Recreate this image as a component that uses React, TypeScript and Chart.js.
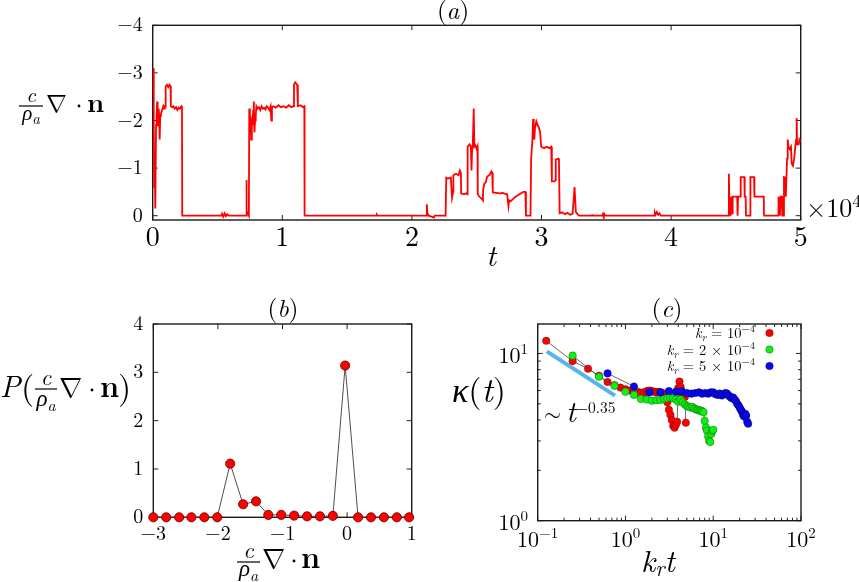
import React, { useEffect, useRef } from "react";
import { Chart, registerables } from "chart.js";

Chart.register(...registerables);

const W = 859;
const H = 582;
const SERIF = '"Latin Modern Roman", "Liberation Serif", "DejaVu Serif", serif';
const MATH = '"Latin Modern Math", "DejaVu Serif", serif';

// ---------- Panel (a): time series (t in units of 10^4) ----------
const aT = [
  0, 0.004, 0.008, 0.012, 0.016, 0.02, 0.026, 0.03, 0.034, 0.038,
  0.042, 0.046, 0.05, 0.054, 0.058, 0.064, 0.07, 0.076, 0.082, 0.088,
  0.094, 0.098, 0.1, 0.11, 0.12, 0.13, 0.138, 0.14, 0.15, 0.16,
  0.17, 0.18, 0.19, 0.2, 0.21, 0.222, 0.226, 0.228, 0.53, 0.535,
  0.545, 0.555, 0.565, 0.575, 0.585, 0.72, 0.722, 0.727, 0.742, 0.745,
  0.75, 0.755, 0.76, 0.765, 0.77, 0.775, 0.78, 0.785, 0.79, 0.795,
  0.8, 0.81, 0.82, 0.83, 0.84, 0.85, 0.86, 0.87, 0.88, 0.89,
  0.9, 0.91, 0.915, 0.92, 0.93, 0.95, 0.97, 0.99, 1.01, 1.03,
  1.05, 1.07, 1.085, 1.09, 1.1, 1.115, 1.12, 1.14, 1.16, 1.17,
  1.172, 1.725, 1.73, 1.735, 2.11, 2.115, 2.12, 2.13, 2.17, 2.175,
  2.26, 2.265, 2.28, 2.3, 2.31, 2.318, 2.32, 2.34, 2.36, 2.37,
  2.378, 2.38, 2.4, 2.42, 2.428, 2.43, 2.445, 2.455, 2.46, 2.465,
  2.47, 2.477, 2.482, 2.49, 2.5, 2.506, 2.508, 2.52, 2.53, 2.54,
  2.548, 2.55, 2.56, 2.57, 2.58, 2.6, 2.614, 2.62, 2.624, 2.65,
  2.68, 2.7, 2.72, 2.735, 2.745, 2.75, 2.76, 2.78, 2.8, 2.83,
  2.86, 2.876, 2.88, 2.915, 2.92, 2.93, 2.935, 2.94, 2.945, 2.95,
  2.96, 2.97, 2.98, 2.99, 2.997, 3.02, 3.04, 3.06, 3.075, 3.08,
  3.1, 3.108, 3.11, 3.13, 3.135, 3.14, 3.16, 3.18, 3.2, 3.22,
  3.24, 3.255, 3.265, 3.28, 3.29, 3.39, 3.392, 3.395, 3.47, 3.475,
  3.48, 3.485, 3.49, 3.87, 3.875, 3.88, 3.89, 3.9, 3.91, 3.92,
  4.445, 4.446, 4.45, 4.455, 4.46, 4.465, 4.47, 4.475, 4.51, 4.513,
  4.517, 4.535, 4.537, 4.565, 4.568, 4.575, 4.578, 4.61, 4.612, 4.64,
  4.643, 4.715, 4.717, 4.825, 4.827, 4.83, 4.835, 4.84, 4.845, 4.855,
  4.858, 4.862, 4.868, 4.871, 4.88, 4.885, 4.89, 4.895, 4.9, 4.905,
  4.915, 4.925, 4.93, 4.94, 4.95, 4.958, 4.965, 4.969, 4.972, 4.985,
  4.99, 5.0,
];
const aV = [
  -2.6, -3.1, -2.0, -0.6, -1.0, -0.15, -1.9, -2.1, -2.4, -2.0,
  -1.9, -2.25, -2.1, -1.6, -2.1, -2.15, -2.2, -2.25, -2.3, -2.25,
  -2.3, -2.3, -2.72, -2.75, -2.7, -2.75, -2.72, -2.3, -2.28, -2.3,
  -2.25, -2.28, -2.22, -2.27, -2.25, -2.3, -2.28, 0, 0, -0.04,
  0.02, -0.05, 0.01, -0.03, 0, 0, -0.75, -0.1, 0, -2.25,
  -1.9, -2.1, -1.6, -2.05, -1.9, -2.2, -2.4, -1.75, -2.0, -2.1,
  -2.3, -2.25, -2.28, -2.22, -2.3, -2.25, -2.27, -2.23, -2.3, -2.27,
  -2.22, -2.3, -2.0, -2.28, -2.3, -2.27, -2.32, -2.28, -2.3, -2.27,
  -2.32, -2.28, -2.3, -2.75, -2.8, -2.75, -2.3, -2.32, -2.28, -2.3,
  0, 0, -0.02, 0, 0, -0.24, -0.05, 0, 0.04, 0,
  0, -0.8, -0.78, -0.8, -0.38, -0.5, -0.85, -0.88, -0.85, -0.95,
  -0.9, -0.47, -0.45, -0.47, -0.45, -1.45, -1.5, -1.45, -0.95, -1.45,
  -1.5, -2.25, -1.45, -1.48, -1.4, -1.45, -0.45, -0.4, -0.38, -0.35,
  -0.32, -0.55, -0.68, -0.7, -0.82, -0.86, -0.93, -0.9, -0.49, -0.48,
  -0.47, -0.48, -0.46, -0.45, -0.2, -0.32, -0.3, -0.35, -0.4, -0.45,
  -0.5, -0.5, 0, 0, -1.2, -1.6, -2.03, -1.7, -1.6, -1.85,
  -1.98, -1.9, -1.85, -1.75, -1.45, -1.42, -1.45, -1.42, -1.45, -0.72,
  -0.72, -0.75, -1.18, -1.2, -1.15, -0.05, -0.07, -0.03, -0.06, -0.02,
  -0.04, -0.6, -0.08, -0.03, 0, 0, -0.03, 0, 0, -0.04,
  0, -0.03, 0, 0, -0.06, -0.02, -0.08, -0.02, -0.05, 0,
  0, -0.88, -0.1, -0.4, 0, -0.4, -0.05, -0.4, -0.4, 0,
  -0.4, -0.4, -0.81, -0.81, -0.4, -0.4, 0, 0, -0.81, -0.81,
  -0.4, -0.4, 0, 0, -0.4, 0, -0.4, 0, -0.4, -0.4,
  0, -0.4, 0, -0.81, -0.8, -0.4, -0.8, -1.2, -1.6, -1.45,
  -1.4, -1.45, -1.1, -1.05, -1.2, -1.45, -1.6, -2.05, -1.5, -1.5,
  -1.6, -1.55,
];
const aXTicks = [0, 1, 2, 3, 4, 5];
const aYTicks = [-4, -3, -2, -1, 0];

// ---------- Panel (b): distribution ----------
const bX = [-3, -2.8, -2.6, -2.41, -2.21, -2.01, -1.81, -1.61, -1.41, -1.22, -1.02,
  -0.82, -0.62, -0.42, -0.22, -0.03, 0.17, 0.37, 0.57, 0.77, 0.96];
const bP = [0, 0, 0, 0, 0, 0, 1.11, 0.27, 0.33, 0.05, 0.05,
  0.035, 0.02, 0.02, 0.03, 3.14, 0, 0, 0, 0, 0];
const bXTicks = [-3, -2, -1, 0, 1];
const bYTicks = [0, 1, 2, 3, 4];

// ---------- Panel (c): kappa(t) ----------
const redX = [0.125, 0.25, 0.375, 0.5, 0.625, 0.75, 0.875, 1.0, 1.125, 1.25, 1.375, 1.5, 1.625,
  1.75, 1.875, 2.0, 2.125, 2.25, 2.375, 2.5, 2.625, 2.75, 2.875, 3.0, 3.125, 3.25, 3.375, 3.5,
  3.625, 3.75, 3.875, 4.0, 4.125, 4.25, 4.375, 4.5, 4.625, 4.75, 4.875];
const redY = [11.9, 9.0, 8.1, 7.35, 6.75, 6.45, 6.25, 6.1, 6.0, 5.95, 5.85, 5.8, 5.85,
  5.95, 6.0, 5.95, 5.9, 5.85, 5.9, 5.85, 5.8, 5.7, 5.4, 5.1, 4.6, 4.3, 4.0, 3.7,
  3.6, 3.75, 3.9, 6.2, 6.8, 6.3, 5.8, 5.6, 5.5, 5.5, 3.85];
const greenX = [0.25, 0.5, 0.75, 1.0, 1.25, 1.5, 1.75, 2.0, 2.25, 2.5, 2.75, 3.0, 3.25, 3.5,
  3.75, 4.0, 4.25, 4.5, 4.75, 5.0, 5.25, 5.5, 5.75, 6.0, 6.25, 6.5, 6.75, 7.0, 7.25, 7.5,
  7.75, 8.0, 8.25, 8.5, 8.75, 9.0, 9.25, 9.5, 9.75, 10.0];
const greenY = [9.7, 7.25, 6.4, 5.9, 5.65, 5.35, 5.3, 5.22, 5.25, 5.27, 5.35, 5.4, 5.45, 5.4,
  5.3, 5.15, 5.3, 5.1, 4.95, 4.85, 4.8, 4.75, 4.8, 4.7, 4.65, 4.6, 4.6, 4.55, 4.55, 4.5,
  4.45, 3.95, 3.6, 3.45, 3.2, 3.0, 2.95, 3.3, 3.45, 3.5];
const blueX = [0.625, 1.25, 1.875, 2.5, 3.125, 3.75, 4.375, 5.0, 5.625, 6.25, 6.875, 7.5,
  8.125, 8.75, 9.375, 10.0, 10.625, 11.25, 11.875, 12.5, 13.125, 13.75, 14.375, 15.0,
  15.625, 16.25, 16.875, 17.5, 18.125, 18.75, 19.375, 20.0, 20.625, 21.25, 21.875, 22.5,
  23.125, 23.75, 24.375, 25.0];
const blueY = [7.6, 6.35, 5.85, 5.85, 5.95, 5.9, 5.95, 5.8, 5.75, 5.8, 5.85, 5.75,
  5.8, 5.75, 5.85, 5.85, 5.7, 5.65, 5.75, 5.6, 5.7, 5.8, 5.75, 5.6,
  5.5, 5.4, 5.45, 5.3, 5.2, 5.0, 4.9, 4.75, 4.6, 4.5, 4.3, 4.2,
  4.35, 4.25, 3.9, 3.8];
const fitX = [0.127, 0.76];
const fitY = [10.3, 5.6];
const cXTicks = [0.1, 1, 10, 100];
const cXExp = ["\u22121", "0", "1", "2"];
const cYTicks = [1, 10];
const cYExp = ["0", "1"];
const legendCoef = ["", "2 \u00d7 ", "5 \u00d7 "];
const legendColors = ["#ff0000", "#11ee11", "#0808ee"];

// ---------- layout ----------
type Box = { L: number; T: number; R: number; B: number };
const BOX_A: Box = { L: 152.7, T: 25.3, R: 800.7, B: 220 };
const BOX_B: Box = { L: 153.3, T: 324, R: 411.7, B: 517.3 };
const BOX_C: Box = { L: 537.7, T: 324, R: 801, B: 520.7 };

const pad = (b: Box) => ({ padding: { left: 0, top: b.T, right: W - b.R, bottom: 0 } });
const fixTicks = (vals: number[]) => (scale: any) => {
  scale.ticks = vals.map((v) => ({ value: v }));
};
const fmtMinus = (v: any) => {
  const n = Number(v);
  return n < 0 ? "\u2212" + Math.abs(n) : String(n);
};
const xy = (xs: number[], ys: number[]) => xs.map((x, i) => ({ x, y: ys[i] }));

type Seg = { t: string; f: string; dy?: number };
function drawRun(ctx: CanvasRenderingContext2D, segs: Seg[], x: number, y: number, align: string) {
  let total = 0;
  const ws = segs.map((s) => {
    ctx.font = s.f;
    const w = ctx.measureText(s.t).width;
    total += w;
    return w;
  });
  let cx = align === "left" ? x : align === "right" ? x - total : x - total / 2;
  ctx.textAlign = "left";
  ctx.textBaseline = "alphabetic";
  segs.forEach((s, i) => {
    ctx.font = s.f;
    ctx.fillText(s.t, cx, y + (s.dy || 0));
    cx += ws[i];
  });
}

type DivN = {
  fx: number; fw: number; lineY: number; numBase: number; denBase: number; frac: number;
  nablaX: number; base: number; nabla: number; dotX: number; dotY: number; nX: number; nSize: number;
};
function drawDivN(ctx: CanvasRenderingContext2D, p: DivN) {
  ctx.fillStyle = "#000";
  ctx.textBaseline = "alphabetic";
  ctx.font = `italic ${p.frac}px ${SERIF}`;
  ctx.textAlign = "center";
  ctx.fillText("c", p.fx + p.fw / 2, p.numBase);
  ctx.fillRect(p.fx, p.lineY - 0.6, p.fw, 1.2);
  drawRun(
    ctx,
    [
      { t: "\u03c1", f: `italic ${p.frac}px ${SERIF}` },
      { t: "a", f: `italic ${Math.round(p.frac * 0.7)}px ${SERIF}`, dy: p.frac * 0.2 },
    ],
    p.fx + p.fw / 2,
    p.denBase,
    "center"
  );
  ctx.font = `${p.nabla}px ${MATH}`;
  ctx.textAlign = "left";
  ctx.fillText("\u2207", p.nablaX, p.base);
  ctx.beginPath();
  ctx.arc(p.dotX, p.dotY, 1.4, 0, Math.PI * 2);
  ctx.fill();
  ctx.font = `bold ${p.nSize}px ${SERIF}`;
  ctx.fillText("n", p.nX, p.base);
}

function framePlugin(
  id: string,
  xMajor: number[],
  yMajor: number[],
  xMinor: number[] = [],
  yMinor: number[] = []
) {
  return {
    id,
    beforeDatasetsDraw(chart: any) {
      const { ctx, chartArea: a, scales } = chart;
      const xs = scales.x;
      const ys = scales.y;
      ctx.save();
      ctx.strokeStyle = "#222";
      ctx.lineWidth = 1;
      ctx.beginPath();
      const xt = (vals: number[], len: number) => {
        for (const v of vals) {
          const p = xs.getPixelForValue(v);
          if (p < a.left - 0.5 || p > a.right + 0.5) continue;
          ctx.moveTo(p, a.bottom);
          ctx.lineTo(p, a.bottom - len);
          ctx.moveTo(p, a.top);
          ctx.lineTo(p, a.top + len);
        }
      };
      const yt = (vals: number[], len: number) => {
        for (const v of vals) {
          const p = ys.getPixelForValue(v);
          if (p < a.top - 0.5 || p > a.bottom + 0.5) continue;
          ctx.moveTo(a.left, p);
          ctx.lineTo(a.left + len, p);
          ctx.moveTo(a.right, p);
          ctx.lineTo(a.right - len, p);
        }
      };
      xt(xMajor, 5);
      yt(yMajor, 5);
      xt(xMinor, 3);
      yt(yMinor, 3);
      ctx.stroke();
      ctx.lineWidth = 1.4;
      ctx.strokeStyle = "#1a1a1a";
      ctx.strokeRect(a.left, a.top, a.right - a.left, a.bottom - a.top);
      ctx.restore();
    },
  };
}

const hiddenGrid = { display: false, drawTicks: false };

function cfgA(): any {
  return {
    type: "line",
    data: {
      datasets: [
        {
          data: xy(aT, aV),
          borderColor: "#ff0000",
          borderWidth: 1.8,
          pointRadius: 0,
          tension: 0,
        },
      ],
    },
    options: {
      animation: false,
      responsive: false,
      devicePixelRatio: 1,
      events: [],
      layout: pad(BOX_A),
      plugins: { legend: { display: false }, tooltip: { enabled: false } },
      scales: {
        x: {
          type: "linear",
          min: 0,
          max: 5,
          afterBuildTicks: fixTicks(aXTicks),
          afterFit: (s: any) => { s.height = H - BOX_A.B; },
          grid: hiddenGrid,
          border: { display: false },
          ticks: { color: "#000", padding: 3.5, maxRotation: 0, autoSkip: false, font: { family: SERIF, size: 28, lineHeight: 1 }, callback: fmtMinus },
        },
        y: {
          type: "linear",
          min: -4,
          max: 0.09,
          reverse: true,
          afterBuildTicks: fixTicks(aYTicks),
          afterFit: (s: any) => { s.width = BOX_A.L; },
          grid: hiddenGrid,
          border: { display: false },
          ticks: { color: "#000", padding: 10, font: { family: SERIF, size: 20, lineHeight: 1 }, callback: fmtMinus },
        },
      },
    },
    plugins: [
      framePlugin("frameA", aXTicks, aYTicks),
      {
        id: "textA",
        afterDraw(chart: any) {
          const ctx = chart.ctx as CanvasRenderingContext2D;
          ctx.save();
          ctx.fillStyle = "#000";
          drawRun(ctx, [
            { t: "(", f: `25px ${SERIF}` },
            { t: "a", f: `italic 25px ${SERIF}` },
            { t: ")", f: `25px ${SERIF}` },
          ], 453, 19, "center");
          drawDivN(ctx, { fx: 19, fw: 24, lineY: 106, numBase: 102, denBase: 120, frac: 21, nablaX: 46, base: 112, nabla: 25, dotX: 79, dotY: 106, nX: 87, nSize: 27 });
          drawRun(ctx, [{ t: "t", f: `italic 30px ${SERIF}` }], 491, 266, "center");
          drawRun(ctx, [
            { t: "\u00d710", f: `26px ${SERIF}` },
            { t: "4", f: `18px ${SERIF}`, dy: -10 },
          ], 806, 217, "left");
          ctx.restore();
        },
      },
    ],
  };
}

function cfgB(): any {
  return {
    type: "line",
    data: {
      datasets: [
        {
          data: xy(bX, bP),
          borderColor: "#3a3a3a",
          borderWidth: 0.9,
          pointRadius: 4.6,
          pointBackgroundColor: "#ff0000",
          pointBorderColor: "#5a0000",
          pointBorderWidth: 0.8,
          tension: 0,
          clip: false,
        },
      ],
    },
    options: {
      animation: false,
      responsive: false,
      devicePixelRatio: 1,
      events: [],
      layout: pad(BOX_B),
      plugins: { legend: { display: false }, tooltip: { enabled: false } },
      scales: {
        x: {
          type: "linear",
          min: -3,
          max: 1,
          afterBuildTicks: fixTicks(bXTicks),
          afterFit: (s: any) => { s.height = H - BOX_B.B; },
          grid: hiddenGrid,
          border: { display: false },
          ticks: { color: "#000", padding: 6.5, maxRotation: 0, autoSkip: false, font: { family: SERIF, size: 20, lineHeight: 1 }, callback: fmtMinus },
        },
        y: {
          type: "linear",
          min: 0,
          max: 4,
          afterBuildTicks: fixTicks(bYTicks),
          afterFit: (s: any) => { s.width = BOX_B.L; },
          grid: hiddenGrid,
          border: { display: false },
          ticks: { color: "#000", padding: 10, font: { family: SERIF, size: 20, lineHeight: 1 }, callback: fmtMinus },
        },
      },
    },
    plugins: [
      framePlugin("frameB", bXTicks, bYTicks),
      {
        id: "textB",
        afterDraw(chart: any) {
          const ctx = chart.ctx as CanvasRenderingContext2D;
          ctx.save();
          ctx.fillStyle = "#000";
          drawRun(ctx, [
            { t: "(", f: `25px ${SERIF}` },
            { t: "b", f: `italic 25px ${SERIF}` },
            { t: ")", f: `25px ${SERIF}` },
          ], 283, 317, "center");
          drawRun(ctx, [{ t: "P", f: `italic 30px ${SERIF}` }], 0, 397, "left");
          drawRun(ctx, [{ t: "(", f: `34px ${SERIF}` }], 21, 399, "left");
          drawDivN(ctx, { fx: 35, fw: 22, lineY: 389, numBase: 385, denBase: 406, frac: 23, nablaX: 59, base: 397, nabla: 28, dotX: 92, dotY: 390, nX: 100, nSize: 30 });
          drawRun(ctx, [{ t: ")", f: `34px ${SERIF}` }], 118, 399, "left");
          drawDivN(ctx, { fx: 237, fw: 23, lineY: 562, numBase: 558, denBase: 576, frac: 23, nablaX: 262, base: 568, nabla: 28, dotX: 294, dotY: 561, nX: 301, nSize: 30 });
          ctx.restore();
        },
      },
    ],
  };
}

function logMinor(lo: number, hi: number) {
  const out: number[] = [];
  for (let e = Math.floor(Math.log10(lo)); e <= Math.ceil(Math.log10(hi)); e++) {
    for (let m = 2; m <= 9; m++) {
      const v = m * Math.pow(10, e);
      if (v > lo && v < hi) out.push(v);
    }
  }
  return out;
}

function cfgC(): any {
  const pt = (color: string) => ({
    borderColor: "#444",
    borderWidth: 0.8,
    pointRadius: 3.8,
    pointBackgroundColor: color,
    pointBorderColor: "rgba(0,0,0,0.45)",
    pointBorderWidth: 0.6,
    tension: 0,
    clip: false,
  });
  return {
    type: "line",
    data: {
      datasets: [
        { data: xy(blueX, blueY), ...pt(legendColors[2]) },
        { data: xy(greenX, greenY), ...pt(legendColors[1]) },
        { data: xy(redX, redY), ...pt(legendColors[0]) },
        { data: xy(fitX, fitY), borderColor: "#56b4e9", borderWidth: 4, pointRadius: 0, borderCapStyle: "butt" },
      ],
    },
    options: {
      animation: false,
      responsive: false,
      devicePixelRatio: 1,
      events: [],
      layout: pad(BOX_C),
      plugins: { legend: { display: false }, tooltip: { enabled: false } },
      scales: {
        x: {
          type: "logarithmic",
          min: 0.1,
          max: 100,
          afterBuildTicks: fixTicks(cXTicks),
          afterFit: (s: any) => { s.height = H - BOX_C.B; },
          grid: hiddenGrid,
          border: { display: false },
          ticks: { display: false },
        },
        y: {
          type: "logarithmic",
          min: 1,
          max: 15,
          afterBuildTicks: fixTicks(cYTicks),
          afterFit: (s: any) => { s.width = BOX_C.L; },
          grid: hiddenGrid,
          border: { display: false },
          ticks: { display: false },
        },
      },
    },
    plugins: [
      framePlugin("frameC", cXTicks, cYTicks, logMinor(0.1, 100), logMinor(1, 15)),
      {
        id: "textC",
        afterDraw(chart: any) {
          const ctx = chart.ctx as CanvasRenderingContext2D;
          const xs = chart.scales.x;
          const ys = chart.scales.y;
          ctx.save();
          ctx.fillStyle = "#000";
          cXTicks.forEach((v, i) => {
            drawRun(ctx, [
              { t: "10", f: `22px ${SERIF}` },
              { t: cXExp[i], f: `15px ${SERIF}`, dy: -9 },
            ], xs.getPixelForValue(v), 547, "center");
          });
          cYTicks.forEach((v, i) => {
            drawRun(ctx, [
              { t: "10", f: `22px ${SERIF}` },
              { t: cYExp[i], f: `15px ${SERIF}`, dy: -9 },
            ], 528, ys.getPixelForValue(v) + 9.5, "right");
          });
          drawRun(ctx, [
            { t: "(", f: `25px ${SERIF}` },
            { t: "c", f: `italic 25px ${SERIF}` },
            { t: ")", f: `25px ${SERIF}` },
          ], 667, 317, "center");
          drawRun(ctx, [
            { t: "\u03ba", f: `italic 34px ${SERIF}` },
            { t: "(", f: `34px ${SERIF}` },
            { t: "t", f: `italic 34px ${SERIF}` },
            { t: ")", f: `34px ${SERIF}` },
          ], 506, 402, "right");
          drawRun(ctx, [
            { t: "k", f: `italic 31px ${SERIF}` },
            { t: "r", f: `italic 22px ${SERIF}`, dy: 4 },
            { t: "t", f: `italic 31px ${SERIF}` },
          ], 641, 572, "left");
          drawRun(ctx, [{ t: "\u223c", f: `22px ${MATH}` }], 544, 421, "left");
          drawRun(ctx, [{ t: "t", f: `italic 30px ${SERIF}` }], 566, 422, "left");
          drawRun(ctx, [{ t: "\u22120.35", f: `15.5px ${SERIF}` }], 576, 413, "left");
          const rowsY = [333, 349.5, 366];
          rowsY.forEach((cy, i) => {
            drawRun(ctx, [
              { t: "k", f: `italic 14.5px ${SERIF}` },
              { t: "r", f: `italic 10.5px ${SERIF}`, dy: 3 },
              { t: " = " + legendCoef[i] + "10", f: `14.5px ${SERIF}` },
              { t: "\u22124", f: `10.5px ${SERIF}`, dy: -6 },
            ], 755, cy + 5, "right");
            ctx.beginPath();
            ctx.arc(769.5, cy, 3.8, 0, Math.PI * 2);
            ctx.fillStyle = legendColors[i];
            ctx.fill();
            ctx.lineWidth = 0.6;
            ctx.strokeStyle = "rgba(0,0,0,0.45)";
            ctx.stroke();
            ctx.fillStyle = "#000";
          });
          ctx.restore();
        },
      },
    ],
  };
}

export default function App() {
  const ra = useRef<HTMLCanvasElement>(null);
  const rb = useRef<HTMLCanvasElement>(null);
  const rc = useRef<HTMLCanvasElement>(null);
  useEffect(() => {
    const charts = [
      new Chart(ra.current as HTMLCanvasElement, cfgA()),
      new Chart(rb.current as HTMLCanvasElement, cfgB()),
      new Chart(rc.current as HTMLCanvasElement, cfgC()),
    ];
    let alive = true;
    const fs: any = (document as any).fonts;
    if (fs && fs.load) {
      const specs = [
        '20px "Latin Modern Roman"',
        'italic 20px "Latin Modern Roman"',
        'bold 20px "Latin Modern Roman"',
        '20px "Latin Modern Math"',
      ];
      Promise.all(specs.map((s) => fs.load(s).catch(() => null)))
        .then(() => fs.ready)
        .then(() => {
          if (alive) charts.forEach((c) => c.update());
        })
        .catch(() => null);
    }
    return () => {
      alive = false;
      charts.forEach((c) => c.destroy());
    };
  }, []);
  const cs: React.CSSProperties = { position: "absolute", left: 0, top: 0, width: W, height: H };
  return (
    <div style={{ position: "fixed", left: 0, top: 0, width: W, height: H, background: "#fff" }}>
      <canvas ref={ra} width={W} height={H} style={cs} />
      <canvas ref={rb} width={W} height={H} style={cs} />
      <canvas ref={rc} width={W} height={H} style={cs} />
    </div>
  );
}
